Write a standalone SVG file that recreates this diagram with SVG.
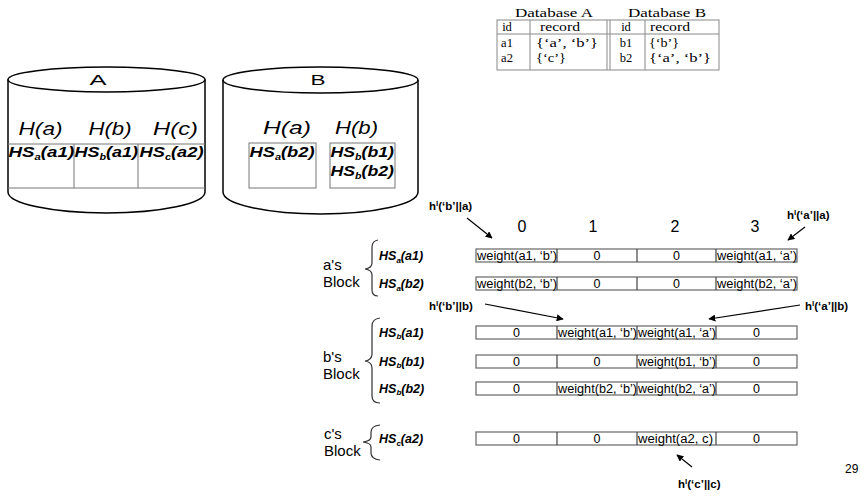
<svg xmlns="http://www.w3.org/2000/svg" width="861" height="502" viewBox="0 0 861 502">
<style>
.cyl{fill:none;stroke:#000;stroke-width:1.5}
.grid{fill:none;stroke:#777;stroke-width:1}
.big{font-family:"Liberation Sans",Arial,sans-serif;font-size:15px;fill:#000}
.hi{font-family:"Liberation Sans",Arial,sans-serif;font-size:18px;font-style:italic;fill:#000}
.hs{font-family:"Liberation Sans",Arial,sans-serif;font-size:15px;font-weight:bold;font-style:italic;fill:#000}
.rl{font-family:"Liberation Sans",Arial,sans-serif;font-size:12.5px;font-weight:bold;font-style:italic;fill:#000}
.cell{fill:#fff;stroke:#666;stroke-width:1.2}
.div{stroke:#444;stroke-width:1.2}
.ct{font-family:"Liberation Sans",Arial,sans-serif;font-size:12.5px;fill:#000}
.ctc{font-family:"Liberation Sans",Arial,sans-serif;font-size:12.5px;fill:#000;text-anchor:middle}
.num{font-family:"Liberation Sans",Arial,sans-serif;font-size:16px;fill:#000;text-anchor:middle}
.blk{font-family:"Liberation Sans",Arial,sans-serif;font-size:15px;fill:#000}
.ann{font-family:"Liberation Sans",Arial,sans-serif;font-size:11.5px;font-weight:bold;fill:#000}
.brace{fill:none;stroke:#333;stroke-width:1.2}
.arr{stroke:#000;stroke-width:1.2;fill:none;marker-end:url(#ah)}
.tb{font-family:"Liberation Serif","Times New Roman",serif;font-size:12.5px;fill:#000}
.tl{stroke:#888;stroke-width:1;fill:none}
</style>
<defs>
<marker id="ah" viewBox="0 0 10 10" refX="9" refY="5" markerWidth="7" markerHeight="7" orient="auto" markerUnits="userSpaceOnUse">
<path d="M0,0 L10,5 L0,10 z" fill="#000"/>
</marker>
</defs>
<rect width="861" height="502" fill="#fff"/>

<g id="cylA">
<ellipse class="cyl" cx="106.5" cy="79.5" rx="98.5" ry="12.5"/>
<path class="cyl" d="M8,79.5 L8,192 A98.5,21 0 0 0 205,192 L205,79.5"/>
<path class="grid" d="M8,144 L205,144 M8,188 L205,188 M74,144 L74,188 M138,144 L138,188"/>
<text class="big" x="98" y="85" text-anchor="middle" textLength="17" lengthAdjust="spacingAndGlyphs">A</text>
<text class="hi" x="18.5" y="134.5" textLength="44" lengthAdjust="spacingAndGlyphs">H(a)</text>
<text class="hi" x="88.5" y="134.5" textLength="43" lengthAdjust="spacingAndGlyphs">H(b)</text>
<text class="hi" x="153" y="134.5" textLength="45" lengthAdjust="spacingAndGlyphs">H(c)</text>
<text class="hs" transform="translate(8.5,157) scale(1.25,1)">HS<tspan font-size="9" dy="3">a</tspan><tspan dy="-3">(a1)</tspan></text>
<text class="hs" transform="translate(74.5,157) scale(1.2,1)">HS<tspan font-size="9" dy="3">b</tspan><tspan dy="-3">(a1)</tspan></text>
<text class="hs" transform="translate(139.5,157) scale(1.22,1)">HS<tspan font-size="9" dy="3">c</tspan><tspan dy="-3">(a2)</tspan></text>
</g>

<g id="cylB">
<ellipse class="cyl" cx="320.5" cy="80" rx="97.5" ry="13"/>
<path class="cyl" d="M223,80 L223,192 A97.5,22 0 0 0 418,192 L418,80"/>
<rect class="grid" x="249" y="143" width="67" height="45"/>
<rect class="grid" x="330" y="143" width="65" height="45"/>
<text class="big" x="318" y="85" text-anchor="middle" textLength="15" lengthAdjust="spacingAndGlyphs">B</text>
<text class="hi" x="263" y="134" textLength="48" lengthAdjust="spacingAndGlyphs">H(a)</text>
<text class="hi" x="335" y="134" textLength="43" lengthAdjust="spacingAndGlyphs">H(b)</text>
<text class="hs" transform="translate(249.5,157) scale(1.22,1)">HS<tspan font-size="9" dy="3">a</tspan><tspan dy="-3">(b2)</tspan></text>
<text class="hs" transform="translate(330.5,157) scale(1.18,1)">HS<tspan font-size="9" dy="3">b</tspan><tspan dy="-3">(b1)</tspan></text>
<text class="hs" transform="translate(330.5,176) scale(1.18,1)">HS<tspan font-size="9" dy="3">b</tspan><tspan dy="-3">(b2)</tspan></text>
</g>

<g id="dbtable">
<text class="tb" x="554" y="17" text-anchor="middle" textLength="78" lengthAdjust="spacingAndGlyphs">Database A</text>
<text class="tb" x="667" y="17" text-anchor="middle" textLength="78" lengthAdjust="spacingAndGlyphs">Database B</text>
<rect class="tl" x="497" y="20" width="222" height="50"/>
<path class="tl" d="M497,34 L719,34 M530,20 L530,70 M607,20 L607,70 M610,20 L610,70 M645,20 L645,70"/>
<text class="tb" x="507" y="31" text-anchor="middle">id</text>
<text class="tb" x="560" y="31" text-anchor="middle" textLength="40" lengthAdjust="spacingAndGlyphs">record</text>
<text class="tb" x="626" y="31" text-anchor="middle">id</text>
<text class="tb" x="670" y="31" text-anchor="middle" textLength="40" lengthAdjust="spacingAndGlyphs">record</text>
<text class="tb" x="507" y="47" text-anchor="middle">a1</text>
<text class="tb" x="536" y="47" textLength="62" lengthAdjust="spacingAndGlyphs">{‘a’, ‘b’}</text>
<text class="tb" x="507" y="62" text-anchor="middle">a2</text>
<text class="tb" x="536" y="62" textLength="30" lengthAdjust="spacingAndGlyphs">{‘c’}</text>
<text class="tb" x="626" y="47" text-anchor="middle">b1</text>
<text class="tb" x="649" y="47" textLength="30" lengthAdjust="spacingAndGlyphs">{‘b’}</text>
<text class="tb" x="626" y="62" text-anchor="middle">b2</text>
<text class="tb" x="649" y="62" textLength="62" lengthAdjust="spacingAndGlyphs">{‘a’, ‘b’}</text>
</g>

<g id="colheaders">
<text class="num" x="522" y="232">0</text>
<text class="num" x="593" y="232">1</text>
<text class="num" x="675" y="232">2</text>
<text class="num" x="755" y="232">3</text>
</g>

<g id="blockA">
<path class="brace" d="M378,240 Q372,241 372,247 L372,263 Q372,268 365,269 Q372,270 372,275 L372,290 Q372,296 378,296"/>
<text class="blk" x="323" y="270">a's</text>
<text class="blk" x="323" y="287">Block</text>
<text class="rl" x="379" y="260">HS<tspan font-size="8" dy="2.5">a</tspan><tspan dy="-2.5">(a1)</tspan></text>
<text class="rl" x="379" y="288">HS<tspan font-size="8" dy="2.5">a</tspan><tspan dy="-2.5">(b2)</tspan></text>
</g>
<g id="rowA1">
<rect class="cell" x="476" y="249" width="321" height="13"/>
<path class="div" d="M557,249 L557,262 M637,249 L637,262 M716,249 L716,262"/>
<text class="ct" x="477" y="259.5" textLength="80" lengthAdjust="spacingAndGlyphs">weight(a1, ‘b’)</text>
<text class="ctc" x="597" y="259.5">0</text>
<text class="ctc" x="676.5" y="259.5">0</text>
<text class="ct" x="717" y="259.5" textLength="80" lengthAdjust="spacingAndGlyphs">weight(a1, ‘a’)</text>
</g>
<g id="rowA2">
<rect class="cell" x="476" y="277" width="321" height="13"/>
<path class="div" d="M557,277 L557,290 M637,277 L637,290 M716,277 L716,290"/>
<text class="ct" x="477" y="287.5" textLength="80" lengthAdjust="spacingAndGlyphs">weight(b2, ‘b’)</text>
<text class="ctc" x="597" y="287.5">0</text>
<text class="ctc" x="676.5" y="287.5">0</text>
<text class="ct" x="717" y="287.5" textLength="80" lengthAdjust="spacingAndGlyphs">weight(b2, ‘a’)</text>
</g>

<g id="blockB">
<path class="brace" d="M380,318 Q372,319 372,326 L372,354 Q372,360 365,361 Q372,362 372,368 L372,396 Q372,403 380,403"/>
<text class="blk" x="323" y="362">b's</text>
<text class="blk" x="323" y="379">Block</text>
<text class="rl" x="379" y="336.5">HS<tspan font-size="8" dy="2.5">b</tspan><tspan dy="-2.5">(a1)</tspan></text>
<text class="rl" x="379" y="365.5">HS<tspan font-size="8" dy="2.5">b</tspan><tspan dy="-2.5">(b1)</tspan></text>
<text class="rl" x="379" y="392.5">HS<tspan font-size="8" dy="2.5">b</tspan><tspan dy="-2.5">(b2)</tspan></text>
</g>
<g id="rowB1">
<rect class="cell" x="476" y="326" width="321" height="13"/>
<path class="div" d="M557,326 L557,339 M637,326 L637,339 M716,326 L716,339"/>
<text class="ctc" x="516.5" y="336.5">0</text>
<text class="ct" x="558" y="336.5" textLength="79" lengthAdjust="spacingAndGlyphs">weight(a1, ‘b’)</text>
<text class="ct" x="638" y="336.5" textLength="78" lengthAdjust="spacingAndGlyphs">weight(a1, ‘a’)</text>
<text class="ctc" x="756.5" y="336.5">0</text>
</g>
<g id="rowB2">
<rect class="cell" x="476" y="355" width="321" height="13"/>
<path class="div" d="M557,355 L557,368 M637,355 L637,368 M716,355 L716,368"/>
<text class="ctc" x="516.5" y="365.5">0</text>
<text class="ctc" x="597" y="365.5">0</text>
<text class="ct" x="638" y="365.5" textLength="78" lengthAdjust="spacingAndGlyphs">weight(b1, ‘b’)</text>
<text class="ctc" x="756.5" y="365.5">0</text>
</g>
<g id="rowB3">
<rect class="cell" x="476" y="382" width="321" height="13"/>
<path class="div" d="M557,382 L557,395 M637,382 L637,395 M716,382 L716,395"/>
<text class="ctc" x="516.5" y="392.5">0</text>
<text class="ct" x="558" y="392.5" textLength="79" lengthAdjust="spacingAndGlyphs">weight(b2, ‘b’)</text>
<text class="ct" x="638" y="392.5" textLength="78" lengthAdjust="spacingAndGlyphs">weight(b2, ‘a’)</text>
<text class="ctc" x="756.5" y="392.5">0</text>
</g>

<g id="blockC">
<path class="brace" d="M380,425 Q371,426 371,432 L371,437 Q371,441 363,442 Q371,443 371,447 L371,453 Q371,459 380,460"/>
<text class="blk" x="324" y="439">c's</text>
<text class="blk" x="324" y="456">Block</text>
<text class="rl" x="379" y="443">HS<tspan font-size="8" dy="2.5">c</tspan><tspan dy="-2.5">(a2)</tspan></text>
</g>
<g id="rowC">
<rect class="cell" x="476" y="432" width="321" height="13"/>
<path class="div" d="M557,432 L557,445 M637,432 L637,445 M716,432 L716,445"/>
<text class="ctc" x="516.5" y="442.5">0</text>
<text class="ctc" x="597" y="442.5">0</text>
<text class="ct" x="638" y="442.5" textLength="75" lengthAdjust="spacingAndGlyphs">weight(a2, c)</text>
<text class="ctc" x="756.5" y="442.5">0</text>
</g>

<g id="annotations">
<text class="ann" x="429" y="210">h<tspan font-size="8" dy="-4">l</tspan><tspan dy="4">(‘b’||a)</tspan></text>
<text class="ann" x="787" y="219">h<tspan font-size="8" dy="-4">l</tspan><tspan dy="4">(‘a’||a)</tspan></text>
<text class="ann" x="429" y="310">h<tspan font-size="8" dy="-4">l</tspan><tspan dy="4">(‘b’||b)</tspan></text>
<text class="ann" x="805" y="310">h<tspan font-size="8" dy="-4">l</tspan><tspan dy="4">(‘a’||b)</tspan></text>
<text class="ann" x="678" y="488">h<tspan font-size="8" dy="-4">l</tspan><tspan dy="4">(‘c’||c)</tspan></text>
<text class="ct" x="845" y="473" style="font-size:12px">29</text>
</g>

<g id="connectors">
<line class="arr" x1="467" y1="218" x2="492" y2="238"/>
<line class="arr" x1="805" y1="227" x2="788" y2="240"/>
<line class="arr" x1="485" y1="304" x2="563" y2="319"/>
<line class="arr" x1="800" y1="305" x2="709" y2="319"/>
<line class="arr" x1="692" y1="467" x2="677" y2="455"/>
</g>
</svg>
